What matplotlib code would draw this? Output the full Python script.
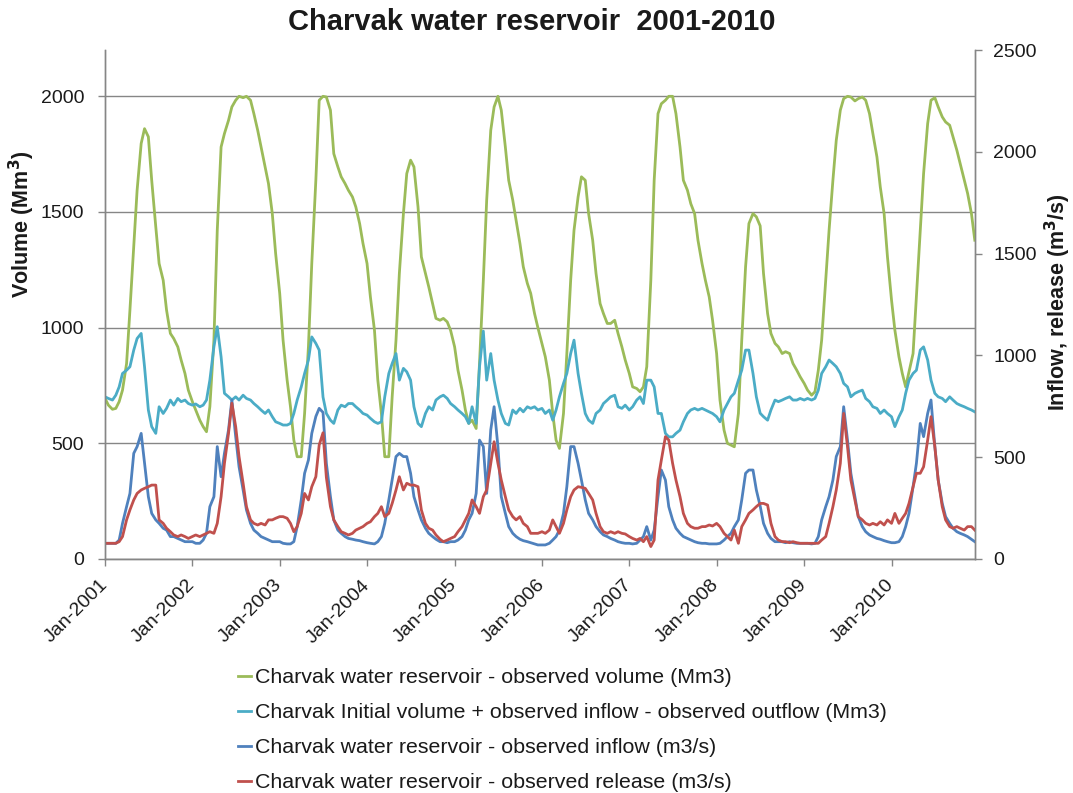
import matplotlib
matplotlib.use("Agg")
import matplotlib.pyplot as plt
import matplotlib.dates as mdates
import pandas as pd
import datetime as dt

plt.rcParams['font.family'] = ['Liberation Sans', 'DejaVu Sans']

# semi-monthly samples, Jan 2001 - Dec 2010 (24 per year)
dates = pd.date_range("2001-01-01", periods=240, freq="SMS")

# observed volume (Mm3), left axis
volume = [
    694, 665, 647, 651, 680, 730, 845, 1076, 1349, 1594, 1796, 1860, 1825, 1637, 1436, 1277, 1205, 1076, 975, 953, 917, 860, 802, 730,
    680, 644, 600, 572, 550, 658, 946, 1421, 1781, 1839, 1896, 1954, 1983, 2000, 1994, 2000, 1983, 1925, 1853, 1781, 1695, 1623, 1493, 1320,
    1148, 946, 773, 658, 514, 442, 442, 629, 917, 1277, 1637, 1983, 2000, 1997, 1940, 1752, 1695, 1652, 1623, 1594, 1565, 1522, 1450, 1364,
    1277, 1133, 989, 773, 629, 442, 442, 701, 946, 1234, 1493, 1666, 1724, 1695, 1522, 1306, 1234, 1176, 1104, 1040, 1032, 1040, 1025, 989,
    917, 816, 730, 644, 586, 600, 564, 845, 1205, 1551, 1853, 1954, 2000, 1940, 1781, 1637, 1551, 1464, 1364, 1263, 1191, 1148, 1061, 1000,
    930, 874, 773, 629, 514, 478, 629, 888, 1205, 1421, 1565, 1652, 1637, 1493, 1378, 1234, 1104, 1061, 1018, 1018, 1032, 975, 917, 860,
    802, 744, 737, 723, 744, 831, 1205, 1637, 1925, 1968, 1983, 2000, 2000, 1925, 1781, 1637, 1594, 1536, 1493, 1378, 1277, 1205, 1133, 1032,
    888, 687, 557, 500, 492, 485, 629, 946, 1263, 1450, 1493, 1479, 1440, 1234, 1061, 975, 932, 917, 888, 896, 888, 845, 816, 788,
    759, 730, 708, 723, 816, 946, 1205, 1421, 1637, 1810, 1940, 1990, 2000, 1997, 1980, 1990, 1997, 1983, 1925, 1839, 1738, 1608, 1493, 1306,
    1119, 989, 874, 802, 744, 809, 888, 1133, 1421, 1666, 1882, 1983, 1994, 1954, 1911, 1889, 1875, 1825, 1767, 1709, 1637, 1580, 1493, 1378,
]

# initial volume + inflow - outflow (Mm3), left axis
balance = [
    701, 694, 687, 708, 744, 802, 816, 831, 903, 953, 975, 831, 644, 572, 543, 658, 629, 651, 687, 665, 694, 680, 687, 672,
    665, 670, 658, 665, 687, 773, 917, 1004, 874, 716, 701, 687, 701, 687, 708, 694, 687, 672, 658, 644, 629, 644, 615, 593,
    586, 579, 579, 586, 629, 687, 744, 802, 860, 960, 932, 903, 700, 629, 600, 586, 644, 665, 658, 672, 672, 658, 644, 629,
    622, 608, 593, 586, 593, 701, 802, 845, 888, 773, 824, 809, 773, 658, 586, 572, 629, 658, 644, 687, 701, 708, 694, 672,
    658, 644, 629, 615, 586, 658, 586, 831, 985, 773, 888, 773, 687, 629, 586, 579, 644, 629, 651, 636, 658, 651, 658, 644,
    651, 629, 644, 600, 644, 701, 759, 802, 888, 946, 802, 716, 629, 600, 586, 629, 644, 672, 687, 701, 708, 658, 651, 665,
    644, 658, 687, 701, 672, 773, 773, 744, 629, 629, 543, 528, 528, 543, 557, 593, 629, 644, 651, 644, 651, 644, 636, 629,
    615, 593, 644, 672, 701, 716, 773, 816, 903, 903, 802, 701, 630, 615, 600, 644, 687, 680, 687, 694, 701, 687, 687, 694,
    687, 694, 687, 694, 730, 802, 831, 860, 845, 831, 802, 759, 744, 701, 716, 723, 730, 694, 680, 658, 651, 629, 644, 629,
    615, 572, 615, 644, 716, 773, 802, 816, 903, 917, 860, 773, 716, 701, 694, 680, 701, 687, 672, 665, 658, 651, 644, 636,
]

# observed inflow (m3/s), right axis
inflow = [
    77, 77, 77, 77, 93, 175, 257, 322, 519, 552, 617, 470, 306, 224, 192, 175, 151, 142, 110, 110, 101, 93, 85, 85,
    85, 77, 77, 93, 126, 257, 306, 552, 404, 519, 634, 781, 601, 453, 339, 241, 175, 142, 126, 110, 101, 93, 85, 85,
    85, 77, 74, 74, 85, 159, 290, 421, 486, 617, 700, 740, 720, 470, 306, 192, 142, 126, 110, 101, 97, 93, 90, 85,
    80, 77, 74, 85, 110, 175, 290, 388, 503, 519, 503, 503, 421, 306, 241, 192, 151, 126, 110, 97, 85, 85, 80, 85,
    85, 93, 110, 142, 192, 224, 322, 584, 552, 322, 634, 748, 552, 306, 224, 159, 126, 110, 97, 90, 85, 80, 74, 69,
    69, 69, 77, 93, 110, 142, 224, 355, 552, 552, 470, 388, 290, 224, 192, 159, 134, 118, 110, 101, 93, 85, 80, 77,
    77, 74, 77, 93, 110, 159, 93, 142, 306, 437, 388, 257, 192, 151, 126, 110, 101, 93, 85, 80, 77, 77, 74, 74,
    74, 77, 93, 110, 126, 159, 192, 290, 421, 437, 437, 339, 260, 175, 126, 101, 85, 85, 85, 80, 85, 80, 77, 77,
    77, 77, 74, 77, 110, 192, 257, 306, 388, 503, 552, 748, 584, 421, 306, 208, 159, 134, 118, 110, 101, 97, 90, 85,
    80, 80, 85, 110, 159, 224, 355, 470, 666, 601, 715, 781, 552, 388, 273, 208, 175, 151, 134, 126, 118, 110, 97, 85,
]

# observed release (m3/s), right axis
release = [
    77, 77, 77, 77, 85, 110, 192, 241, 290, 322, 339, 347, 355, 363, 363, 192, 175, 151, 134, 118, 110, 118, 110, 101,
    110, 118, 110, 118, 126, 134, 126, 175, 306, 470, 617, 765, 650, 503, 372, 257, 192, 175, 167, 175, 167, 192, 192, 200,
    208, 208, 200, 175, 134, 159, 224, 322, 290, 355, 404, 560, 620, 400, 257, 192, 159, 134, 126, 118, 126, 142, 151, 159,
    175, 183, 208, 224, 257, 208, 224, 273, 339, 404, 339, 372, 363, 363, 355, 241, 175, 151, 142, 118, 97, 85, 93, 101,
    110, 134, 159, 192, 224, 290, 257, 224, 306, 339, 470, 576, 470, 388, 306, 241, 208, 192, 208, 175, 159, 126, 126, 126,
    134, 126, 142, 192, 159, 126, 175, 241, 306, 339, 355, 352, 347, 322, 290, 224, 159, 134, 126, 134, 126, 134, 126, 123,
    110, 101, 93, 101, 85, 110, 61, 93, 388, 486, 601, 584, 470, 388, 306, 224, 175, 159, 151, 151, 159, 159, 167, 162,
    175, 159, 126, 110, 93, 142, 77, 159, 192, 224, 241, 257, 273, 273, 265, 175, 110, 93, 85, 85, 80, 85, 80, 77,
    77, 77, 77, 77, 77, 93, 110, 175, 257, 339, 470, 715, 552, 388, 290, 208, 192, 175, 167, 175, 167, 183, 167, 192,
    175, 224, 175, 200, 224, 273, 355, 421, 421, 453, 584, 699, 552, 388, 257, 192, 159, 151, 159, 151, 142, 159, 159, 142,
]

labels = [
    "Charvak water reservoir - observed volume (Mm3)",
    "Charvak Initial volume + observed inflow - observed outflow (Mm3)",
    "Charvak water reservoir - observed inflow (m3/s)",
    "Charvak water reservoir - observed release (m3/s)",
]
colors = ["#9BBB59", "#4BACC6", "#4F81BD", "#C0504D"]
axis_col = "#868686"
text_col = "#1a1a1a"

fig = plt.figure(figsize=(10.73, 7.93), dpi=100)
ax = fig.add_axes([0.0979, 0.2951, 0.8108, 0.6418])
ax2 = ax.twinx()

l1, = ax.plot(dates, volume, color=colors[0], lw=2.0, zorder=3)
l2, = ax.plot(dates, balance, color=colors[1], lw=2.0, zorder=3)
l3, = ax2.plot(dates, inflow, color=colors[2], lw=2.0)
l4, = ax2.plot(dates, release, color=colors[3], lw=2.0)

ax.set_xlim(dt.date(2001, 1, 1), dt.date(2010, 12, 16))
ax.set_ylim(0, 2200)
ax.set_yticks([0, 500, 1000, 1500, 2000])
ax2.set_ylim(0, 2500)
ax2.set_yticks([0, 500, 1000, 1500, 2000, 2500])

ax.yaxis.grid(True, color=axis_col, lw=1.0)
ax.set_axisbelow(True)

ax.xaxis.set_major_locator(mdates.YearLocator())
ax.xaxis.set_major_formatter(mdates.DateFormatter("%b-%Y"))

for a in (ax, ax2):
    a.spines["top"].set_visible(False)
    for s in ("left", "right", "bottom"):
        a.spines[s].set_color(axis_col)
        a.spines[s].set_linewidth(1.0)
    a.tick_params(colors=axis_col, labelcolor=text_col, labelsize=14,
                  length=5, width=1.0, direction="out")
ax.tick_params(axis="y", pad=10)
ax2.tick_params(axis="y", pad=8)
ax.tick_params(axis="x", pad=12)
for lab in ax.get_xticklabels():
    lab.set_rotation(45)
    lab.set_ha("right")
    lab.set_va("center")
    lab.set_rotation_mode("anchor")

fig.text(0.4954, 1 - 22 / 793, "Charvak water reservoir  2001-2010",
         ha="center", va="center", fontsize=21, fontweight="bold", color=text_col)
fig.text(22 / 1073, 1 - 224 / 793, r"Volume (Mm$^\mathbf{3}$)", rotation=90,
         ha="center", va="center", fontsize=15.5, fontweight="bold", color=text_col)
fig.text(1058 / 1073, 1 - 302 / 793, r"Inflow, release (m$^\mathbf{3}$/s)", rotation=90,
         ha="center", va="center", fontsize=15.5, fontweight="bold", color=text_col)

fig.legend([l1, l2, l3, l4], labels, loc="upper left",
           bbox_to_anchor=(238 / 1073, 1 - 668 / 793), frameon=False,
           fontsize=15.4, handlelength=0.6, handletextpad=0.2,
           labelspacing=0.75, borderpad=0, borderaxespad=0, labelcolor=text_col)

fig.savefig("out.png", dpi=100)
